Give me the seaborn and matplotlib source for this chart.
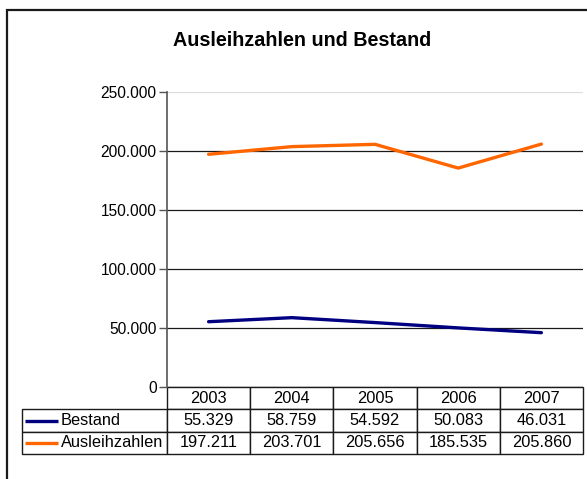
import pandas as pd
import seaborn as sns
import matplotlib.pyplot as plt
from matplotlib.patches import Rectangle
from matplotlib.ticker import FuncFormatter

jahre = ['2003', '2004', '2005', '2006', '2007']
bestand = [55329, 58759, 54592, 50083, 46031]
ausleihzahlen = [197211, 203701, 205656, 185535, 205860]
serien = ['Bestand', 'Ausleihzahlen']
farben = ['#000080', '#FF6600']

df = pd.DataFrame({
    'Jahr': jahre * 2,
    'Wert': bestand + ausleihzahlen,
    'Reihe': ['Bestand'] * 5 + ['Ausleihzahlen'] * 5,
})

sns.set_style('white')
plt.rcParams['font.family'] = ['Liberation Sans', 'DejaVu Sans']
plt.rcParams['text.color'] = 'black'
plt.rcParams['ytick.labelcolor'] = 'black'

fig = plt.figure(figsize=(5.87, 4.79), dpi=100)
fig.patches.append(Rectangle((7 / 587, -0.1), 1.2, 1 - 10 / 479 + 0.1, transform=fig.transFigure,
                             fill=False, edgecolor='#1a1a1a', linewidth=1.6))
ax = fig.add_axes([167 / 587, 1 - 387 / 479, 416 / 587, 295 / 479])

sns.lineplot(data=df, x='Jahr', y='Wert', hue='Reihe', hue_order=serien,
             palette=farben, linewidth=2.4, legend=False, ax=ax)

def de_fmt(v, pos):
    return f'{int(v):,}'.replace(',', '.')

ax.set_ylim(0, 250000)
ax.set_yticks(range(0, 250001, 50000))
ax.yaxis.set_major_formatter(FuncFormatter(de_fmt))
ax.set_xlim(-0.5, 4.5)
ax.set_xticks([])
ax.set_xlabel('')
ax.set_ylabel('')
ax.tick_params(axis='y', direction='out', length=6, width=1, color='#555555',
               labelsize=11.2, pad=1.5, left=True)
ax.grid(axis='y', color='#1a1a1a', linewidth=0.9)
ax.yaxis.get_gridlines()[-1].set_color('#dddddd')
ax.set_axisbelow(True)
for s in ['top', 'right', 'bottom']:
    ax.spines[s].set_visible(False)
ax.spines['left'].set_color('#555555')
ax.spines['left'].set_linewidth(1.2)

fig.text(302 / 587, 1 - 41 / 479, 'Ausleihzahlen und Bestand', ha='center', va='center',
         fontsize=14.2, fontweight='bold')

# Datentabelle unter dem Diagramm
zellen = [['Bestand'] + [de_fmt(v, None) for v in bestand],
          ['Ausleihzahlen'] + [de_fmt(v, None) for v in ausleihzahlen]]
breiten = [145] + [83.2] * 5
tab = ax.table(cellText=zellen, colLabels=[''] + jahre, colWidths=breiten,
               cellLoc='center', bbox=[-145 / 416, -67 / 295, 561 / 416, 67 / 295])
tab.auto_set_font_size(False)
tab.set_fontsize(11.8)
for (r, c), cell in tab.get_celld().items():
    cell.set_edgecolor('#1a1a1a')
    cell.set_linewidth(1.0)
    cell.get_text().set_color('black')
    if r == 0 and c == 0:
        cell.visible_edges = 'B'
        cell.set_edgecolor('none')
    if c == 0 and r > 0:
        cell.PAD = 39 / 145
        cell.get_text().set_ha('left')
        cell._loc = 'left'

# Legendensymbole in der Tabelle
for i, f in enumerate(farben):
    y = -(22.3 * (i + 1) + 11.2) / 295
    ax.plot([-142 / 416, -109 / 416], [y, y], color=f, linewidth=2.4,
            transform=ax.transAxes, clip_on=False, solid_capstyle='butt')

fig.savefig('out.png', dpi=100)
